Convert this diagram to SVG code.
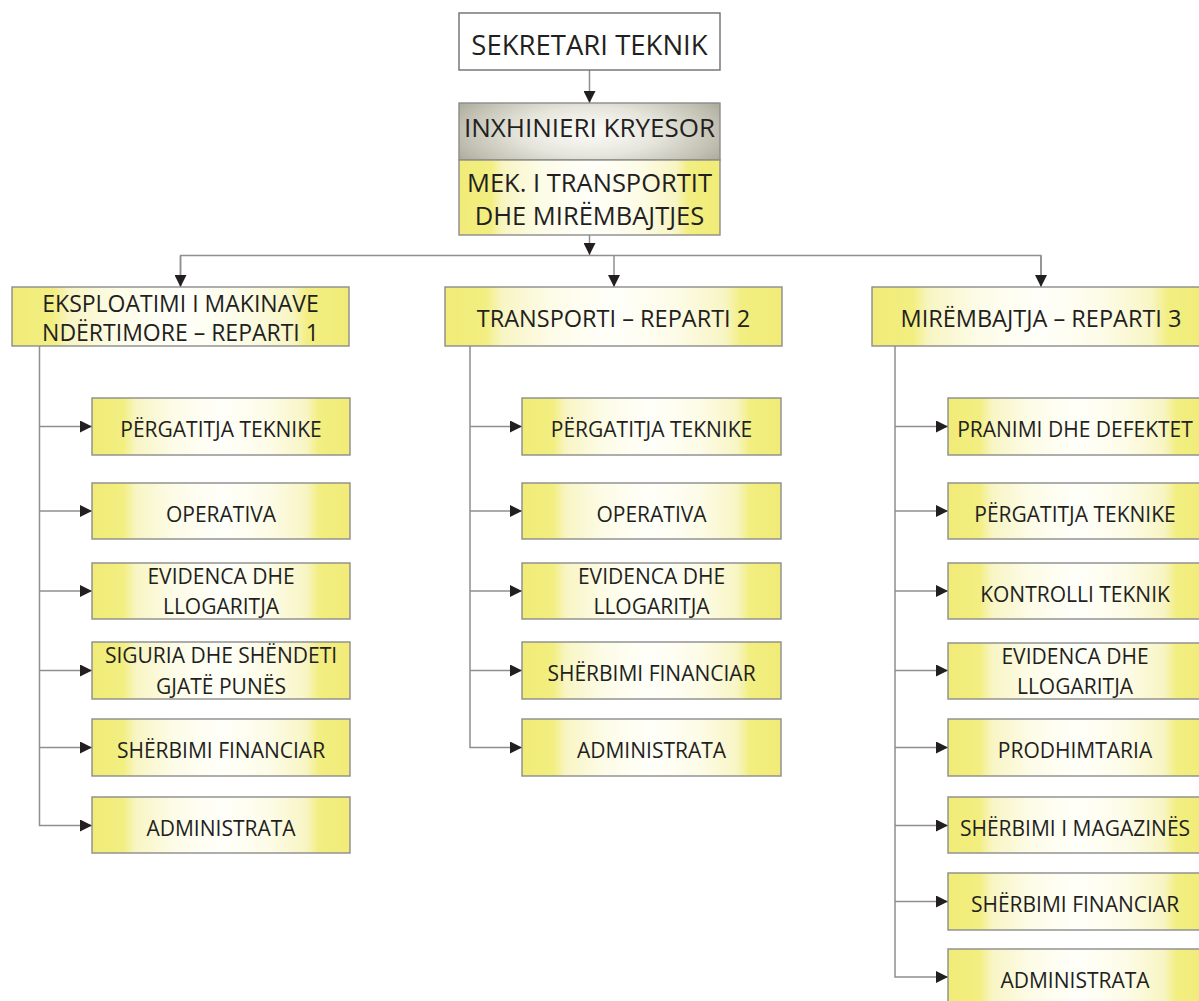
<svg xmlns="http://www.w3.org/2000/svg" width="1199" height="1001" viewBox="0 0 1199 1001">
  <style>
    .box { fill: url(#yellowFill); stroke: #8c8c8c; stroke-width: 1.4; }
    .plain { fill: #ffffff; stroke: #6e6e6e; stroke-width: 1.4; }
    .grey { fill: url(#greyFill); stroke: #8c8c8c; stroke-width: 1.4; }
    text { font-family: "Open Sans", "Noto Sans", sans-serif; fill: #231f20; text-anchor: middle; }
    .t0 { font-size: 26px; }
    .t1 { font-size: 23.5px; }
    .t2 { font-size: 21px; }
    .link { fill: none; stroke: #8f8f8f; stroke-width: 1.5; }
    .arrow { marker-end: url(#head); }
  </style>
  <defs>
    <linearGradient id="yellowFill" x1="0" y1="0" x2="1" y2="0">
      <stop offset="0" stop-color="#f1ec78"/>
      <stop offset="0.12" stop-color="#f2ee80"/>
      <stop offset="0.17" stop-color="#f8f5c4"/>
      <stop offset="0.32" stop-color="#fdfce8"/>
      <stop offset="0.5" stop-color="#fffffa"/>
      <stop offset="0.68" stop-color="#fdfce8"/>
      <stop offset="0.83" stop-color="#f8f5c4"/>
      <stop offset="0.88" stop-color="#f2ee80"/>
      <stop offset="1" stop-color="#f1ec78"/>
    </linearGradient>
    <radialGradient id="greyFill" cx="0.5" cy="0.5" r="0.6" gradientTransform="translate(0.5 0.5) scale(1 1.6) translate(-0.5 -0.5)">
      <stop offset="0" stop-color="#fdfdfa"/>
      <stop offset="0.45" stop-color="#e6e5dc"/>
      <stop offset="0.8" stop-color="#c2c1b3"/>
      <stop offset="1" stop-color="#a9a898"/>
    </radialGradient>
    <marker id="head" viewBox="0 0 12 12" refX="12" refY="6" markerWidth="12" markerHeight="12" markerUnits="userSpaceOnUse" orient="auto">
      <path d="M0,0 L12,6 L0,12 z" fill="#231f20"/>
    </marker>
  </defs>

  <!-- connectors -->
  <g id="connectors">
    <line class="link arrow" x1="589.5" y1="70" x2="589.5" y2="103"/>
    <line class="link arrow" x1="589.5" y1="235" x2="589.5" y2="255"/>
    <polyline class="link" points="180.5,287 180.5,255.5 1041,255.5 1041,287"/>
    <line class="link arrow" x1="180.5" y1="256" x2="180.5" y2="287"/>
    <line class="link arrow" x1="614" y1="256" x2="614" y2="287"/>
    <line class="link arrow" x1="1041" y1="256" x2="1041" y2="287"/>

    <!-- department 1 branches -->
    <polyline class="link arrow" points="39.5,346 39.5,825.5 92,825.5"/>
    <line class="link arrow" x1="39.5" y1="426.5" x2="92" y2="426.5"/>
    <line class="link arrow" x1="39.5" y1="511" x2="92" y2="511"/>
    <line class="link arrow" x1="39.5" y1="591" x2="92" y2="591"/>
    <line class="link arrow" x1="39.5" y1="670.5" x2="92" y2="670.5"/>
    <line class="link arrow" x1="39.5" y1="747.5" x2="92" y2="747.5"/>

    <!-- department 2 branches -->
    <polyline class="link arrow" points="470,346 470,747.5 522,747.5"/>
    <line class="link arrow" x1="470" y1="426.5" x2="522" y2="426.5"/>
    <line class="link arrow" x1="470" y1="511" x2="522" y2="511"/>
    <line class="link arrow" x1="470" y1="591" x2="522" y2="591"/>
    <line class="link arrow" x1="470" y1="670.5" x2="522" y2="670.5"/>

    <!-- department 3 branches -->
    <polyline class="link arrow" points="895,346 895,977 948,977"/>
    <line class="link arrow" x1="895" y1="426.5" x2="948" y2="426.5"/>
    <line class="link arrow" x1="895" y1="511" x2="948" y2="511"/>
    <line class="link arrow" x1="895" y1="591" x2="948" y2="591"/>
    <line class="link arrow" x1="895" y1="670.5" x2="948" y2="670.5"/>
    <line class="link arrow" x1="895" y1="747.5" x2="948" y2="747.5"/>
    <line class="link arrow" x1="895" y1="825.5" x2="948" y2="825.5"/>
    <line class="link arrow" x1="895" y1="901.5" x2="948" y2="901.5"/>
  </g>

  <!-- management -->
  <g id="sekretari">
    <rect class="plain" x="459" y="13" width="261" height="57"/>
    <text class="t0" x="589.5" y="55" style="font-size:27.5px">SEKRETARI TEKNIK</text>
  </g>
  <g id="inxhinieri">
    <rect class="grey" x="459" y="103" width="261" height="57"/>
    <text class="t0" x="589.5" y="137">INXHINIERI KRYESOR</text>
  </g>
  <g id="mekanika">
    <rect class="box" x="459" y="160" width="261" height="75"/>
    <text class="t0" x="589.5" y="192" style="font-size:25.5px">MEK. I TRANSPORTIT</text>
    <text class="t0" x="589.5" y="225" style="font-size:25.5px">DHE MIRËMBAJTJES</text>
  </g>

  <!-- departments -->
  <g id="reparti1">
    <rect class="box" x="12" y="287" width="337" height="59"/>
    <text class="t1" x="180.5" y="312" style="font-size:23px">EKSPLOATIMI I MAKINAVE</text>
    <text class="t1" x="180.5" y="341" style="font-size:23px">NDËRTIMORE – REPARTI 1</text>
  </g>
  <g id="reparti2">
    <rect class="box" x="445" y="287" width="337" height="59"/>
    <text class="t1" x="613.5" y="327">TRANSPORTI – REPARTI 2</text>
  </g>
  <g id="reparti3">
    <rect class="box" x="872" y="287" width="337" height="59"/>
    <text class="t1" x="1041" y="327">MIRËMBAJTJA – REPARTI 3</text>
  </g>

  <!-- department 1 units -->
  <g id="r1-pergatitja">
    <rect class="box" x="92" y="398" width="258" height="57"/>
    <text class="t2" x="221" y="437">PËRGATITJA TEKNIKE</text>
  </g>
  <g id="r1-operativa">
    <rect class="box" x="92" y="483" width="258" height="56"/>
    <text class="t2" x="221" y="522">OPERATIVA</text>
  </g>
  <g id="r1-evidenca">
    <rect class="box" x="92" y="563" width="258" height="56"/>
    <text class="t2" x="221" y="584">EVIDENCA DHE</text>
    <text class="t2" x="221" y="614">LLOGARITJA</text>
  </g>
  <g id="r1-siguria">
    <rect class="box" x="92" y="642" width="258" height="57"/>
    <text class="t2" x="221" y="663">SIGURIA DHE SHËNDETI</text>
    <text class="t2" x="221" y="694">GJATË PUNËS</text>
  </g>
  <g id="r1-financiar">
    <rect class="box" x="92" y="719" width="258" height="57"/>
    <text class="t2" x="221" y="758">SHËRBIMI FINANCIAR</text>
  </g>
  <g id="r1-administrata">
    <rect class="box" x="92" y="797" width="258" height="56"/>
    <text class="t2" x="221" y="836">ADMINISTRATA</text>
  </g>

  <!-- department 2 units -->
  <g id="r2-pergatitja">
    <rect class="box" x="522" y="398" width="259" height="57"/>
    <text class="t2" x="651.5" y="437">PËRGATITJA TEKNIKE</text>
  </g>
  <g id="r2-operativa">
    <rect class="box" x="522" y="483" width="259" height="56"/>
    <text class="t2" x="651.5" y="522">OPERATIVA</text>
  </g>
  <g id="r2-evidenca">
    <rect class="box" x="522" y="563" width="259" height="56"/>
    <text class="t2" x="651.5" y="584">EVIDENCA DHE</text>
    <text class="t2" x="651.5" y="614">LLOGARITJA</text>
  </g>
  <g id="r2-financiar">
    <rect class="box" x="522" y="642" width="259" height="57"/>
    <text class="t2" x="651.5" y="681">SHËRBIMI FINANCIAR</text>
  </g>
  <g id="r2-administrata">
    <rect class="box" x="522" y="719" width="259" height="57"/>
    <text class="t2" x="651.5" y="758">ADMINISTRATA</text>
  </g>

  <!-- department 3 units -->
  <g id="r3-pranimi">
    <rect class="box" x="948" y="398" width="260" height="57"/>
    <text class="t2" x="1075" y="437">PRANIMI DHE DEFEKTET</text>
  </g>
  <g id="r3-pergatitja">
    <rect class="box" x="948" y="483" width="260" height="56"/>
    <text class="t2" x="1075" y="522">PËRGATITJA TEKNIKE</text>
  </g>
  <g id="r3-kontrolli">
    <rect class="box" x="948" y="563" width="260" height="56"/>
    <text class="t2" x="1075" y="602">KONTROLLI TEKNIK</text>
  </g>
  <g id="r3-evidenca">
    <rect class="box" x="948" y="643" width="260" height="56"/>
    <text class="t2" x="1075" y="664">EVIDENCA DHE</text>
    <text class="t2" x="1075" y="694">LLOGARITJA</text>
  </g>
  <g id="r3-prodhimtaria">
    <rect class="box" x="948" y="719" width="260" height="57"/>
    <text class="t2" x="1075" y="758">PRODHIMTARIA</text>
  </g>
  <g id="r3-magazina">
    <rect class="box" x="948" y="797" width="260" height="56"/>
    <text class="t2" x="1075" y="836">SHËRBIMI I MAGAZINËS</text>
  </g>
  <g id="r3-financiar">
    <rect class="box" x="948" y="873" width="260" height="57"/>
    <text class="t2" x="1075" y="912">SHËRBIMI FINANCIAR</text>
  </g>
  <g id="r3-administrata">
    <rect class="box" x="948" y="949" width="260" height="60"/>
    <text class="t2" x="1075" y="988">ADMINISTRATA</text>
  </g>
</svg>
